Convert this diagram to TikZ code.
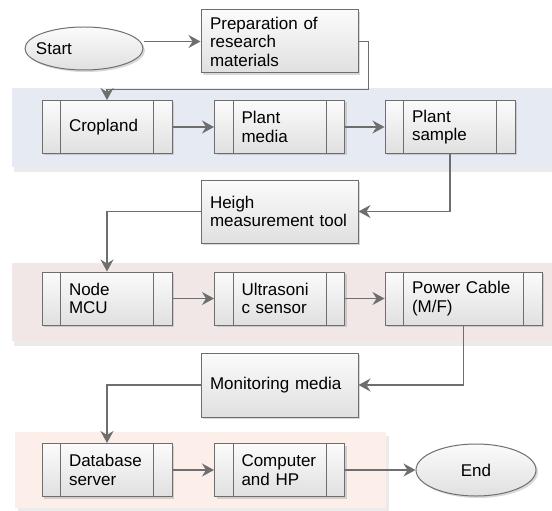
\documentclass[tikz,border=0pt]{standalone}
\usepackage{fontspec}
\setmainfont{Liberation Sans}
\usepackage{xcolor}
\usepackage{tikz}
\usetikzlibrary{arrows.meta,shapes.geometric,shadows}
\definecolor{stroke}{HTML}{6E6E6E}
\definecolor{boxtop}{HTML}{FBFBFB}
\definecolor{boxbot}{HTML}{E0E0E0}
\definecolor{laneblue}{HTML}{E6EBF3}
\definecolor{lanered}{HTML}{F2E7E7}
\definecolor{laneorange}{HTML}{FCEEE9}
\definecolor{laneshade}{HTML}{EBEBEB}
\tikzset{
  txt/.style={font=\fontsize{17bp}{18.5bp}\selectfont},
  box/.style={txt, draw=stroke, line width=1pt, top color=boxtop, bottom color=boxbot,
    drop shadow={shadow xshift=2bp, shadow yshift=-2bp, opacity=0.3}},
  task/.style={box, rectangle, align=left, minimum width=157bp, minimum height=63bp,
    text width=139bp, inner xsep=9bp, inner ysep=2bp},
  proc/.style={box, rectangle, align=left, minimum width=130bp, minimum height=53bp,
    text width=76bp, inner xsep=27bp, inner ysep=2bp},
  term/.style={box, ellipse, inner ysep=0pt},
  bar/.style={draw=stroke, line width=1pt},
  flow/.style={draw=stroke, line width=1.2pt, -{Stealth[length=12bp,width=13bp,inset=4bp]}},
}
\begin{document}
\begin{tikzpicture}[x=1bp,y=-1bp]
  \useasboundingbox (0,0) rectangle (552,511);

  % lanes
  \fill[laneshade] (14,92) rectangle (552,172);
  \fill[laneblue] (12,88) rectangle (552,167);
  \fill[laneshade] (14,267) rectangle (552,346);
  \fill[lanered] (12,263) rectangle (552,341);
  \fill[laneshade] (18,436) rectangle (389,511);
  \fill[laneorange] (15,432) rectangle (386,508);

  \node[term, minimum width=118bp, minimum height=43bp, inner xsep=-12bp] (start) at (84,48.5) {\makebox[96bp][l]{Start}};
  \node[task] (prep) at (279.5,41.5) {Preparation of\\research\\materials};

  \node[proc] (crop) at (107,127) {Cropland};
  \node[proc] (media) at (279.5,127) {Plant\\media};
  \node[proc] (sample) at (450,127) {Plant\\sample};

  \node[task] (heigh) at (279.5,211.5) {Heigh\\measurement tool};

  \node[proc] (mcu) at (107,298.5) {Node\\MCU};
  \node[proc] (ultra) at (279.5,298.5) {Ultrasoni\\c sensor};
  \node[proc, minimum width=157bp, text width=103bp] (cable) at (463.5,298.5) {Power Cable\\(M/F)};

  \node[task, minimum height=64bp] (monitor) at (279.5,385) {Monitoring media};

  \node[proc] (db) at (107,470) {Database\\server};
  \node[proc] (pc) at (279.5,470) {Computer\\and HP};
  \node[term, minimum width=120bp, minimum height=52bp] (finish) at (476,470) {End};

  \foreach \n in {crop,media,sample,mcu,ultra,cable,db,pc} {
    \draw[bar] ([xshift=19bp]\n.north west) -- ([xshift=19bp]\n.south west);
    \draw[bar] ([xshift=-19bp]\n.north east) -- ([xshift=-19bp]\n.south east);
  }

  \draw[flow] (start.east |- prep.west) -- (prep.west);
  \draw[flow] (prep.east) -| ++(10,48) -| (crop.north);
  \draw[flow] (crop) -- (media);
  \draw[flow] (media) -- (sample);
  \draw[flow] (sample.south) |- (heigh.east);
  \draw[flow] (heigh.west) -| (mcu.north);
  \draw[flow] (mcu) -- (ultra);
  \draw[flow] (ultra) -- (cable);
  \draw[flow] (cable.south) |- (monitor.east);
  \draw[flow] (monitor.west) -| (db.north);
  \draw[flow] (db) -- (pc);
  \draw[flow] (pc) -- (finish);
\end{tikzpicture}
\end{document}
